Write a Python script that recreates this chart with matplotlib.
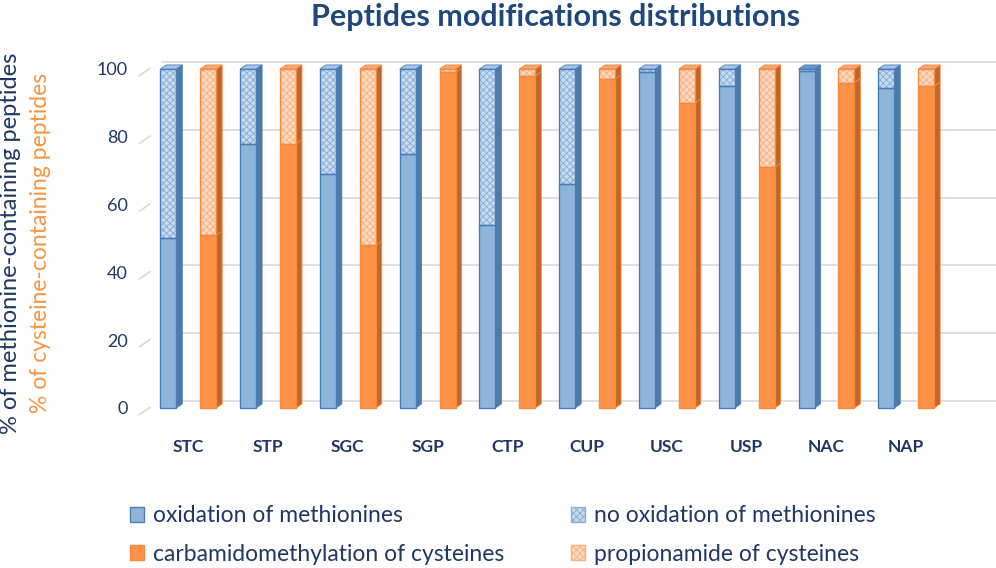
import matplotlib
matplotlib.use("Agg")
import matplotlib.pyplot as plt
from matplotlib.patches import Polygon, Patch
from matplotlib.transforms import ScaledTranslation

plt.rcParams['font.family'] = ['Lato', 'DejaVu Sans']
plt.rcParams['hatch.linewidth'] = 0.7

categories = ["STC", "STP", "SGC", "SGP", "CTP", "CUP", "USC", "USP", "NAC", "NAP"]
oxidation = [50, 78, 69, 75, 54, 66, 99, 95, 99.5, 94.5]
no_oxidation = [100 - v for v in oxidation]
carbamido = [51, 78, 48, 99, 98, 97, 90, 71, 96, 95]
propionamide = [100 - v for v in carbamido]

navy = "#1F3864"
title_blue = "#1F497D"
blue_front, blue_edge, blue_side = "#8EB4DA", "#4A7EBB", "#4E7BA6"
blue_light, blue_hatch = "#C9DAEE", "#8DB0D8"
orng_front, orng_edge, orng_side = "#FF9248", "#F58A3C", "#C2652A"
orng_light, orng_hatch = "#FDDCC4", "#F9B27F"

fig = plt.figure(figsize=(9.96, 5.68), dpi=100)
ax = fig.add_axes([150 / 996, (568 - 408) / 568, 840 / 996, 339 / 568])
ax.set_xlim(-0.48, 10.05)
ax.set_ylim(0, 100)

# depth of the fake 3d, in data units
dx, dy = 0.075, 1.2
w = 0.2

# back wall grid lines with a short floor diagonal at the left
back = ax.transData + ScaledTranslation(12 / 100, 7 / 100, fig.dpi_scale_trans)
for yv in range(0, 101, 20):
    ax.plot([-0.48, 10.05], [yv, yv], color="#D9D9D9", lw=1.2, transform=back, zorder=0, clip_on=False)
    ax.plot([-0.61, -0.48], [yv - 1.9, yv + 0.2], color="#D9D9D9", lw=1.2, zorder=0, clip_on=False)


def bar3d(x, bottom, height, face, edge, side, hatch=None, hatch_color=None):
    top = bottom + height
    ax.bar(x, height, w, bottom=bottom, color=face, edgecolor=hatch_color if hatch else edge,
           hatch=hatch, lw=0, zorder=3, clip_on=False)
    ax.add_patch(Polygon([(x - w / 2, bottom), (x + w / 2, bottom), (x + w / 2, top), (x - w / 2, top)],
                         closed=True, fill=False, edgecolor=edge, lw=1, zorder=4, clip_on=False))
    ax.add_patch(Polygon([(x + w / 2, bottom), (x + w / 2 + dx, bottom + dy), (x + w / 2 + dx, top + dy),
                          (x + w / 2, top)], closed=True, facecolor=side, edgecolor=edge, lw=0.6,
                         zorder=2, clip_on=False))


for i in range(len(categories)):
    xb, xo = i - 0.25, i + 0.25
    bar3d(xb, 0, oxidation[i], blue_front, blue_edge, blue_side)
    bar3d(xb, oxidation[i], no_oxidation[i], blue_light, blue_edge, blue_side, "xxxxx", blue_hatch)
    bar3d(xo, 0, carbamido[i], orng_front, orng_edge, orng_side)
    bar3d(xo, carbamido[i], propionamide[i], orng_light, orng_edge, orng_side, "xxxxx", orng_hatch)
    # top faces
    ax.add_patch(Polygon([(xb - w / 2, 100), (xb + w / 2, 100), (xb + w / 2 + dx, 100 + dy), (xb - w / 2 + dx, 100 + dy)],
                         closed=True, facecolor="#6F97C4" if no_oxidation[i] < 1 else "#A9C3E0",
                         edgecolor=blue_edge, lw=0.6, zorder=5, clip_on=False))
    ax.add_patch(Polygon([(xo - w / 2, 100), (xo + w / 2, 100), (xo + w / 2 + dx, 100 + dy), (xo - w / 2 + dx, 100 + dy)],
                         closed=True, facecolor="#F0A878", edgecolor=orng_edge, lw=0.6, zorder=5, clip_on=False))

for s in ax.spines.values():
    s.set_visible(False)
ax.set_xticks(range(len(categories)))
ax.set_xticklabels(categories, fontsize=12.5, fontweight="bold", color=navy)
ax.tick_params(axis="x", length=0, pad=22)
ax.set_yticks(range(0, 101, 20))
ax.tick_params(axis="y", length=0, pad=16, labelsize=13, labelcolor=navy)

fig.text(0.011, (568 - 243) / 568, "% of methionine-containing peptides", rotation=90,
         ha="center", va="center", fontsize=17, color=navy)
fig.text(0.041, (568 - 243) / 568, "% of cysteine-containing peptides", rotation=90,
         ha="center", va="center", fontsize=16.5, color="#F79646")

fig.text(556 / 996, 1 - 17 / 568, "Peptides modifications distributions", ha="center", va="center",
         fontsize=22, fontweight="bold", color=title_blue)

handles = [
    Patch(facecolor=blue_front, edgecolor=blue_edge, label="oxidation of methionines"),
    Patch(facecolor=blue_light, edgecolor=blue_hatch, hatch="xxxxx", label="no oxidation of methionines"),
    Patch(facecolor=orng_front, edgecolor=orng_edge, label="carbamidomethylation of cysteines"),
    Patch(facecolor=orng_light, edgecolor=orng_hatch, hatch="xxxxx", label="propionamide of cysteines"),
]
order = [handles[0], handles[2], handles[1], handles[3]]
fig.legend(handles=order, ncol=2, loc="center", bbox_to_anchor=(503 / 996, 1 - 535 / 568),
           frameon=False, fontsize=16.5, labelcolor=navy, handlelength=0.6, handleheight=0.6,
           handletextpad=0.4, columnspacing=2.9, labelspacing=0.75)

fig.savefig("out.png", dpi=100)
